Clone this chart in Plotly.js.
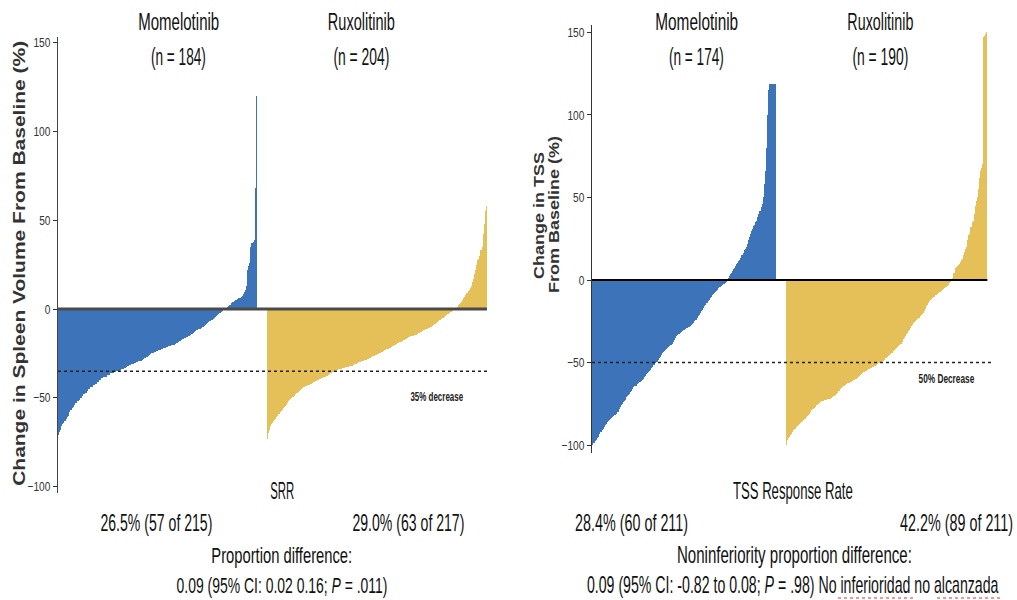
<!DOCTYPE html>
<html>
<head>
<meta charset="utf-8">
<script src="https://cdn.plot.ly/plotly-3.0.1.min.js"></script>
<style>
html,body{margin:0;padding:0;background:#fff;}
#chart{width:1017px;height:600px;}
</style>
</head>
<body>
<div id="chart"></div>
<script>
// ---------------- DATA ----------------
const groupNames = ["Momelotinib", "Ruxolitinib"];
const spleenN = ["(n = 184)", "(n = 204)"];
const tssN = ["(n = 174)", "(n = 190)"];

// Spleen volume change from baseline (%), sorted waterfall
const spleenMomelotinib = [
  -71, -69, -68, -66, -65, -64, -63, -62, -61, -60,
  -58, -57, -57, -56, -55, -54, -53, -53, -52, -51, -50, -50, -49, -48, -48,
  -47, -47, -46, -45, -45, -44, -44, -43, -43, -42, -42, -41, -41, -40, -40, -39,
  -39, -38, -38, -38, -37, -37, -37, -36, -36, -36, -36, -35.5, -35.5, -35, -35, -35,
  -34.5, -34, -34, -33.5, -33, -33, -32.5, -32, -32, -31.5, -31.5, -31, -31, -30.5, -30.5, -30, -30, -29.5, -29.5, -29, -29, -28.5,
  -28, -27.5, -27, -27, -26.5, -26, -25.5, -25, -25, -24.5, -24, -24,
  -23.5, -23.5, -23, -23, -22.5, -22.5, -22, -22, -22, -21.5, -21.5, -21, -21, -21, -20.5, -20.5,
  -20, -19.5, -19, -19, -18.5, -18, -18, -17.5, -17, -17, -16.5, -16,
  -15.5, -15, -15, -14.5, -14, -14, -13.5, -13, -12.5, -12, -12, -11.5,
  -11, -10.5, -10, -10, -9.5, -9, -8.5, -8, -7.5, -7, -6.5, -6,
  -5.5, -5, -4.5, -4, -3.5, -3, -2.5, -2, -1.5, -1, -0.5, -0.2,
  0.5, 1, 1.5, 2, 2.5, 3.2,
  3.8, 4.2, 4.6, 5, 5.3, 5.6, 6, 6.3, 6.6,
  7.5, 8.5, 9.5, 11, 13, 22, 24, 26, 35, 37, 38, 39, 68, 120
];
const spleenRuxolitinib = [
  -73, -70, -68, -66, -65,
  -64, -63, -62.5, -62, -61,
  -60, -59, -58, -57.5, -57, -56, -55, -54.5, -54, -53, -52,
  -51, -50.5, -50, -49.5, -49, -48, -47.5, -47, -46.5, -46,
  -45.5, -45, -44.5, -44, -44, -43.5, -43, -43, -42.5,
  -42, -42, -41.5, -41, -41, -40.5, -40.5, -40, -39.7,
  -39.5, -39, -39, -38.5, -38, -38, -37.5, -37.5, -37,
  -36.5, -36, -36, -35.5, -35,
  -34.8, -34.5, -34.3, -34, -34,
  -33.8, -33.5, -33.3, -33, -33, -32.8, -32.5, -32.5, -32.3, -32, -32, -32,
  -31.5, -31.2, -31, -30.7, -30.4, -30, -29.8, -29.5, -29.3, -29, -28.8, -28.6, -28.5,
  -28.2, -28, -27.7, -27.4, -27, -26.7, -26.4, -26.1, -25.8, -25.5, -25.2, -24.9, -24.6, -24.3, -24,
  -23.7, -23.3, -23, -22.7, -22.3, -22, -21.7, -21.3, -21, -20.7, -20.3, -20, -19.7, -19.3, -19,
  -18.7, -18.4, -18, -17.7, -17.4, -17, -16.7, -16.4, -16, -15.7, -15.4, -15.1, -14.9, -14.7, -14.5, -14.4,
  -14, -13.7, -13.4, -13, -12.7, -12.4, -12, -11.7, -11.4, -11, -10.7, -10.4, -10.1, -9.9, -9.7,
  -9.2, -8.7, -8.2, -7.7, -7.2, -6.7, -6.2, -5.7, -5.2, -4.8, -4.4, -4,
  -3.5, -3, -2.6, -2.2, -1.8, -1.4, -1, -0.6, -0.2,
  0.5, 1.2, 2, 2.8, 3.5, 4.2, 5, 6, 7, 8, 9, 10, 11, 12, 13, 15, 17, 20, 22, 25, 27.5, 28, 30, 33, 35, 42, 48, 55, 58
];

// TSS change from baseline (%), sorted waterfall
const tssMomelotinib = [
  -100, -99, -98.5, -97.5, -97,
  -96, -95, -93, -92, -91, -90,
  -89, -88, -87, -86, -85.5, -85,
  -84, -83.5, -83, -82.5, -82, -81.5, -81,
  -80, -78, -77, -76,
  -75, -74, -73, -72.5, -71, -70, -69.5, -69,
  -68, -67, -66, -65, -64.5, -64,
  -63, -62.5, -62, -61.5, -61, -60.5,
  -60, -59, -58, -57, -56.5, -55.5, -55,
  -54.5, -53.5, -52.5, -51.5, -50.5, -49.8,
  -49.5, -48.5, -47.5, -46.5, -45.5, -44.5,
  -43.4, -43, -42.5, -42, -41, -40.5, -40,
  -39.4, -38.5, -37.5, -36.5, -35, -34,
  -33.3, -33, -32.5, -32, -31.5, -31, -30.5, -30, -29.5,
  -29.3, -29, -28.5, -28, -27, -26.5, -26, -25, -24.5, -24,
  -23, -22, -21, -20, -19, -18, -17,
  -16, -15, -14, -13, -12, -11, -10,
  -9, -8.5, -8, -7, -6.5, -6,
  -5, -4.5, -4, -3.5, -3, -2.5, -2, -1,
  0.5, 1.5, 2.5, 3.5, 4.5, 5.5, 6.5, 7.5, 8.5, 9.5, 10.5, 11.5,
  12, 13.5, 15, 16.5, 18, 19, 20,
  22, 24, 26, 28, 30, 31,
  32.5, 33.5, 35, 36,
  38, 40, 42, 44, 46,
  50, 58, 66,
  80, 100,
  115, 119, 119, 119, 119, 119, 119, 119
];
const tssRuxolitinib = [
  -100, -97, -96, -95, -94,
  -93, -92, -91, -90,
  -89, -88.5, -88, -87.5, -86.5, -86, -85.5,
  -85, -84.5, -84, -83, -82.5, -81.5,
  -81, -80, -79, -78, -77.5, -77,
  -76, -75.5, -75, -74.5, -74, -73.5, -73,
  -73, -72.8, -72.6, -72.4, -72.2, -72,
  -72, -71.5, -71, -70.5, -70, -69.5,
  -69, -68.5, -67.5, -67, -66, -65.5,
  -65, -64.5, -64, -63.5, -63, -62.5, -62.2,
  -62, -61.5, -61, -60.8, -60.5, -60.2,
  -60, -59.5, -58.5, -58, -57.5, -57,
  -56.5, -56, -55.5, -55, -54.5, -54, -53.8,
  -53.5, -53, -52.8, -52.5, -52, -51.8,
  -51.5, -51, -50.5, -50,
  -49.8, -49.5, -49, -48.5, -47.5, -47, -46.5, -46,
  -45.5, -45, -44.5, -44, -43, -42.5, -42, -41, -40.5, -40,
  -39.4, -38.5, -37.5, -36, -35, -34, -33, -32, -31,
  -30, -29, -28, -27, -26, -25.5, -25,
  -24, -23.5, -23, -22, -21, -20.5,
  -20, -19, -17.5,
  -16, -15, -14, -13, -12, -11.5,
  -11, -10.5, -10, -9, -8.5,
  -8, -7.5, -7, -6.5, -6, -5.5, -5, -4.5,
  -4, -3.5, -3, -2, -1, -0.5,
  1, 4, 7, 8, 8.5, 9, 10, 11, 12, 13, 15, 17, 19, 20, 24, 27, 28, 32, 35, 36, 40, 45, 48, 50, 55, 62, 66, 68, 70, 147, 148, 149, 150
];

const yTicks = [-100, -50, 0, 50, 100, 150];
const spleenThreshold = -35;
const tssThreshold = -50;

const texts = {
  spleenYTitle: "Change in Spleen Volume From Baseline (%)",
  tssYTitle1: "Change in TSS",
  tssYTitle2: "From Baseline (%)",
  srr: "SRR",
  srrMomelotinib: "26.5% (57 of 215)",
  srrRuxolitinib: "29.0% (63 of 217)",
  srrDiff1: "Proportion difference:",
  srrDiff2: "0.09 (95% CI: 0.02 0.16; <i>P</i> = .011)",
  tss: "TSS Response Rate",
  tssMomelotinib: "28.4% (60 of 211)",
  tssRuxolitinib: "42.2% (89 of 211)",
  tssDiff1: "Noninferiority proportion difference:",
  tssDiff2: "0.09 (95% CI: -0.82 to 0.08; <i>P</i> = .98) No inferioridad no alcanzada",
  spleenLine: "35% decrease",
  tssLine: "50% Decrease"
};

// ---------------- LAYOUT ----------------
const W = 1017, H = 600;
const GAP = 9;
const BLUE = "rgb(61,116,185)";
const GOLD = "rgb(229,191,88)";
const SANS = "Liberation Sans, Arial, sans-serif";

const px = v => v / W;
const py = v => 1 - v / H;
const idx = (n, off) => Array.from({length: n}, (_, i) => i + off);

const sM = spleenMomelotinib.length, sR = spleenRuxolitinib.length;
const tM = tssMomelotinib.length, tR = tssRuxolitinib.length;

const bar = (x, y, color, xa, ya) => ({
  type: "bar", x: x, y: y, xaxis: xa, yaxis: ya,
  marker: {color: color, line: {width: 0}},
  hoverinfo: "skip", showlegend: false
});

const data = [
  bar(idx(sM, 0), spleenMomelotinib, BLUE, "x", "y"),
  bar(idx(sR, sM + GAP), spleenRuxolitinib, GOLD, "x", "y"),
  bar(idx(tM, 0), tssMomelotinib, BLUE, "x2", "y2"),
  bar(idx(tR, tM + GAP), tssRuxolitinib, GOLD, "x2", "y2")
];

const yAxisBase = {
  tickvals: yTicks, ticks: "outside", ticklen: 4, tickwidth: 1, tickcolor: "#333",
  showline: true, linecolor: "#444", linewidth: 1, showgrid: false, zeroline: false,
  tickfont: {family: SANS, size: 13, color: "#333"}
};
const xAxisBase = {visible: false, showgrid: false, zeroline: false, fixedrange: true};

const leftEnd = sM + GAP + sR - 0.5;
const rightEnd = tM + GAP + tR - 0.5;

const layout = {
  width: W, height: H,
  margin: {l: 0, r: 0, t: 0, b: 0},
  paper_bgcolor: "#fff", plot_bgcolor: "#fff",
  bargap: 0,
  showlegend: false,
  xaxis: Object.assign({}, xAxisBase, {domain: [px(58), px(490)], range: [-0.5, 399.3]}),
  yaxis: Object.assign({}, yAxisBase, {domain: [py(493), py(37)], range: [-103.6, 153.2]}),
  xaxis2: Object.assign({}, xAxisBase, {domain: [px(592), px(991)], range: [-0.5, 375.9]}),
  yaxis2: Object.assign({}, yAxisBase, {domain: [py(453), py(25)], range: [-104.8, 154.5], anchor: "x2", linecolor: "#333"}),
  shapes: [
    {type: "line", xref: "x", yref: "y", x0: -0.5, x1: leftEnd, y0: 0, y1: 0,
     line: {color: "#4a4a4a", width: 3}, layer: "above"},
    {type: "line", xref: "x", yref: "y", x0: -0.5, x1: 399.3, y0: spleenThreshold, y1: spleenThreshold,
     line: {color: "#222", width: 1.5, dash: "dot"}, layer: "above"},
    {type: "line", xref: "x2", yref: "y2", x0: -0.5, x1: rightEnd, y0: 0, y1: 0,
     line: {color: "#000", width: 2}, layer: "above"},
    {type: "line", xref: "x2", yref: "y2", x0: -0.5, x1: 375.9, y0: tssThreshold, y1: tssThreshold,
     line: {color: "#222", width: 1.5, dash: "dot"}, layer: "above"},
    // spell-check style underline marks
    {type: "line", xref: "paper", yref: "paper", x0: px(838), x1: px(915), y0: py(598), y1: py(598),
     line: {color: "#e03030", width: 1.2, dash: "dot"}},
    {type: "line", xref: "paper", yref: "paper", x0: px(937), x1: px(1000), y0: py(598), y1: py(598),
     line: {color: "#e03030", width: 1.2, dash: "dot"}}
  ],
  annotations: []
};

// per-annotation horizontal condensing (reference text is narrow)
const squeeze = [];   // {i, width} -> scale text to this pixel width
const thin = [];      // {i, k}  -> scale rotated text thickness

function note(text, x, y, size, opts, targetW) {
  const i = layout.annotations.length;
  layout.annotations.push(Object.assign({
    text: text, xref: "paper", yref: "paper", x: px(x), y: py(y),
    xanchor: "center", yanchor: "middle", showarrow: false,
    font: {family: SANS, size: size, color: "#111"}
  }, opts || {}));
  if (targetW) squeeze.push({i: i, width: targetW});
  return i;
}

// group headers
note(groupNames[0], 178, 21, 24, null, 81);
note(spleenN[0], 178, 56, 24, null, 55);
note(groupNames[1], 361, 21, 24, null, 67);
note(spleenN[1], 361, 56, 24, null, 56);
note(groupNames[0], 696, 21, 24, null, 83);
note(tssN[0], 696, 56, 24, null, 55);
note(groupNames[1], 880, 21, 24, null, 66);
note(tssN[1], 880, 56, 24, null, 56);

// axis titles
const yt = {textangle: -90};
thin.push({i: note("<b>" + texts.spleenYTitle + "</b>", 20, 264, 21, Object.assign({}, yt, {font: {family: SANS, size: 21, color: "#333"}})), k: 0.75});
thin.push({i: note("<b>" + texts.tssYTitle1 + "</b>", 539, 216, 18, Object.assign({}, yt, {font: {family: SANS, size: 18, color: "#333"}})), k: 0.78});
thin.push({i: note("<b>" + texts.tssYTitle2 + "</b>", 554, 215, 18, Object.assign({}, yt, {font: {family: SANS, size: 18, color: "#333"}})), k: 0.78});

// threshold labels
note("<b>" + texts.spleenLine + "</b>", 437, 397, 12, {font: {family: SANS, size: 12, color: "#222"}}, 53);
note("<b>" + texts.tssLine + "</b>", 946, 379, 12, {font: {family: SANS, size: 12, color: "#222"}}, 56);

// bottom texts
note(texts.srr, 282, 491, 23, null, 24);
note(texts.srrMomelotinib, 156, 523, 23, null, 112);
note(texts.srrRuxolitinib, 408, 523, 23, null, 112);
note(texts.srrDiff1, 282, 555, 23, null, 141);
note(texts.srrDiff2, 282, 585, 23, null, 211);
note(texts.tss, 793, 491, 23, null, 120);
note(texts.tssMomelotinib, 631, 523, 23, null, 113);
note(texts.tssRuxolitinib, 956, 523, 23, null, 113);
note(texts.tssDiff1, 794, 555, 23, null, 235);
note(texts.tssDiff2, 793, 585, 23, null, 412);

function condense() {
  const gd = document.getElementById("chart");
  squeeze.forEach(s => {
    const t = gd.querySelector('g.annotation[data-index="' + s.i + '"] text.annotation-text');
    if (!t) return;
    t.removeAttribute("transform");
    const b = t.getBBox();
    const cx = b.x + b.width / 2;
    const k = s.width / b.width;
    t.setAttribute("transform", "translate(" + cx + ",0) scale(" + k + ",1) translate(" + (-cx) + ",0)");
  });
  thin.forEach(s => {
    const t = gd.querySelector('g.annotation[data-index="' + s.i + '"] text.annotation-text');
    if (!t) return;
    t.removeAttribute("transform");
    const b = t.getBBox();
    const cy = b.y + b.height / 2;
    t.setAttribute("transform", "translate(0," + cy + ") scale(1," + s.k + ") translate(0," + (-cy) + ")");
  });
  gd.querySelectorAll(".ytick text, .y2tick text").forEach(t => {
    const base = t.getAttribute("data-base-transform") !== null ? t.getAttribute("data-base-transform") : (t.getAttribute("transform") || "");
    t.setAttribute("data-base-transform", base);
    const b = t.getBBox();
    const rx = b.x + b.width;
    t.setAttribute("transform", base + " translate(" + rx + ",0) scale(0.78,1) translate(" + (-rx) + ",0)");
  });
}

Plotly.newPlot("chart", data, layout, {displayModeBar: false, staticPlot: true}).then(condense);
</script>
</body>
</html>
